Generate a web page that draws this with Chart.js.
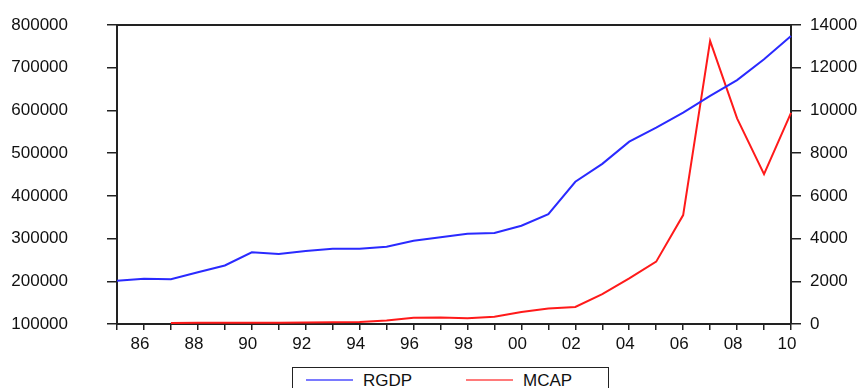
<!DOCTYPE html>
<html>
<head>
<meta charset="utf-8">
<script src="https://cdn.jsdelivr.net/npm/chart.js@4/dist/chart.umd.min.js"></script>
<style>
  html, body { margin: 0; padding: 0; background: #fff; overflow: hidden; }
  #wrap { position: absolute; left: 0; top: 0; width: 861px; height: 388px; }
  #legend {
    position: absolute; left: 292px; top: 367px; width: 317px; height: 40px;
    border: 1.5px solid #222; box-sizing: border-box; background: #fff;
    font-family: "Liberation Sans", Arial, sans-serif; font-size: 17px; color: #111;
  }
  .item { position: absolute; top: 3px; height: 20px; line-height: 20px; }
  .swatch { position: absolute; top: 11px; width: 47px; height: 2px; }
</style>
</head>
<body>
<div id="wrap">
  <canvas id="c" width="861" height="388"></canvas>
  <div id="legend">
    <div class="swatch" style="left:13px;background:#7a7aff;"></div>
    <div class="item" style="left:70px;">RGDP</div>
    <div class="swatch" style="left:173px;background:#ff7a7a;"></div>
    <div class="item" style="left:230px;">MCAP</div>
  </div>
</div>
<script>
const years = ['1985','1986','1987','1988','1989','1990','1991','1992','1993','1994','1995','1996','1997','1998','1999','2000','2001','2002','2003','2004','2005','2006','2007','2008','2009','2010'];
const rgdp = [201000, 206000, 205000, 221000, 237000, 268000, 264000, 271000, 276000, 276000, 281000, 295000, 303000, 311000, 313000, 330000, 357000, 433000, 475000, 527000, 560000, 595000, 634000, 671000, 720000, 774000];
const mcap = [null, null, 50, 55, 55, 60, 60, 70, 80, 90, 160, 290, 310, 270, 340, 560, 730, 800, 1400, 2140, 2920, 5100, 13260, 9630, 7020, 9890];
const leftTicks = [100000, 200000, 300000, 400000, 500000, 600000, 700000, 800000];
const rightTicks = [0, 2000, 4000, 6000, 8000, 10000, 12000, 14000];

const FONT = { family: '"Liberation Sans", Arial, sans-serif', size: 17 };
const INK = '#111';
const AX = '#222';

const topLine = {
  id: 'topLine',
  afterDraw(chart) {
    const a = chart.chartArea, ctx = chart.ctx;
    ctx.save();
    ctx.strokeStyle = AX; ctx.lineWidth = 2;
    ctx.beginPath(); ctx.moveTo(a.left - 1, a.top); ctx.lineTo(a.right + 1, a.top); ctx.stroke();
    ctx.restore();
  }
};

function noPad(s) { s.paddingTop = 0; s.paddingBottom = 0; }

new Chart(document.getElementById('c'), {
  type: 'line',
  data: {
    labels: years,
    datasets: [
      { label: 'RGDP', data: rgdp, yAxisID: 'y', borderColor: '#2a2aff', borderWidth: 2, pointRadius: 0, tension: 0, fill: false },
      { label: 'MCAP', data: mcap, yAxisID: 'y1', borderColor: '#ff1a1a', borderWidth: 2, pointRadius: 0, tension: 0, fill: false, spanGaps: false }
    ]
  },
  options: {
    responsive: false,
    animation: false,
    events: [],
    layout: { padding: { top: 25, left: 0, right: 0, bottom: 0 } },
    plugins: { legend: { display: false }, tooltip: { enabled: false } },
    scales: {
      x: {
        type: 'category',
        offset: false,
        afterFit(s) { s.height = 64; },
        grid: { display: true, drawOnChartArea: false, drawTicks: true, tickLength: 6, color: AX, lineWidth: 1.5 },
        border: { display: true, color: AX, width: 2 },
        ticks: {
          autoSkip: false, maxRotation: 0, minRotation: 0, padding: 4, labelOffset: -4,
          color: INK, font: FONT,
          callback(v, i) { const y = +years[i]; return y % 2 === 0 ? String(y).slice(2) : ''; }
        }
      },
      y: {
        position: 'left',
        min: 100000, max: 800000,
        afterFit(s) { s.width = 117; noPad(s); },
        afterBuildTicks(s) { s.ticks = leftTicks.map(v => ({ value: v })); },
        grid: { display: true, drawOnChartArea: false, drawTicks: true, tickLength: 10, color: AX, lineWidth: 1.5 },
        border: { display: true, color: AX, width: 2 },
        ticks: { padding: 39, color: INK, font: FONT, callback: v => String(v) }
      },
      y1: {
        position: 'right',
        min: 0, max: 14000,
        afterFit(s) { s.width = 70; noPad(s); },
        afterBuildTicks(s) { s.ticks = rightTicks.map(v => ({ value: v })); },
        grid: { display: true, drawOnChartArea: false, drawTicks: true, tickLength: 10, color: AX, lineWidth: 1.5 },
        border: { display: true, color: AX, width: 2 },
        ticks: { padding: 9, color: INK, font: FONT, callback: v => String(v) }
      }
    }
  },
  plugins: [topLine]
});
</script>
</body>
</html>
